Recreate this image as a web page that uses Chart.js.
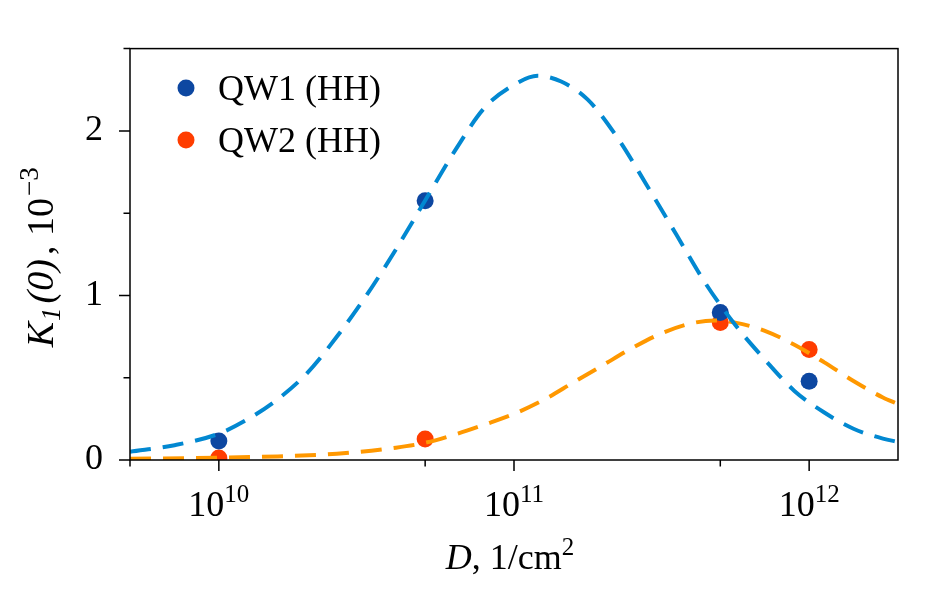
<!DOCTYPE html>
<html>
<head>
<meta charset="utf-8">
<script src="https://cdn.jsdelivr.net/npm/chart.js@4.4.1/dist/chart.umd.min.js"></script>
<style>
    html, body { margin: 0; padding: 0; background: #fff; }
    #wrap { width: 946px; height: 590px; position: relative; }
</style>
</head>
<body>
<div id="wrap"><canvas id="k1Chart"></canvas></div>
<script>
// Puntos medidos
const pointD = [1e10, 5e10, 5e11, 1e12];
const qw1Values = [0.115, 1.576, 0.897, 0.479];
const qw2Values = [0.012, 0.127, 0.836, 0.671];
const seriesLabels = ['QW1 (HH)', 'QW2 (HH)'];

// Curvas de ajuste
const fit1D = [5e9, 7.08e9, 1e10, 1.259e10, 1.585e10, 1.995e10, 2.512e10, 3.162e10, 3.981e10, 5.012e10,
    6.31e10, 7.943e10, 1e11, 1.202e11, 1.445e11, 1.778e11, 2.239e11, 2.818e11, 3.548e11, 4.467e11,
    5.623e11, 7.079e11, 8.913e11, 1.122e12, 1.413e12, 1.778e12, 2e12];
const fit1Values = [0.05, 0.09, 0.16, 0.25, 0.37, 0.53, 0.75, 1.00, 1.28, 1.58,
    1.88, 2.14, 2.28, 2.335, 2.30, 2.19, 1.96, 1.67, 1.37, 1.07,
    0.82, 0.61, 0.42, 0.29, 0.19, 0.13, 0.11];

const fit2D = [5e9, 1e10, 1.585e10, 2.512e10, 3.981e10, 5.012e10, 6.31e10, 7.943e10, 1e11, 1.259e11,
    1.585e11, 1.995e11, 2.512e11, 3.162e11, 3.981e11, 4.786e11, 5.623e11, 7.079e11, 8.913e11, 1.122e12,
    1.413e12, 1.778e12, 2e12];
const fit2Values = [0.007, 0.014, 0.022, 0.038, 0.075, 0.105, 0.155, 0.215, 0.28, 0.365,
    0.47, 0.575, 0.68, 0.77, 0.83, 0.848, 0.835, 0.785, 0.70, 0.595,
    0.48, 0.38, 0.34];

// Ticks
const xMajorTicks = [1e10, 1e11, 1e12];
const xMinorTicks = [5e9, 5e10, 5e11];
const yMajorTicks = [0, 1, 2];
const yMinorTicks = [0.5, 1.5, 2.5];

const SERIF = "'Liberation Serif', 'Times New Roman', serif";
const FS = 36;      // tamaño de texto
const FS_SMALL = 25; // sub / superíndices
const DOT1 = '#0d47a1';
const DOT2 = '#ff3d00';
const LINE1 = '#0288d1';
const LINE2 = '#ff9800';

function toXY(xs, ys) {
    return xs.map((x, i) => ({ x: x, y: ys[i] }));
}

// dibuja texto con partes en cursiva / sub / superíndice
function drawRich(ctx, pieces, x, y) {
    let total = 0;
    pieces.forEach(p => {
        ctx.font = (p.italic ? 'italic ' : '') + p.size + 'px ' + SERIF;
        p.w = ctx.measureText(p.text).width + (p.gap || 0);
        total += p.w;
    });
    let cx = x - total / 2;
    pieces.forEach(p => {
        ctx.font = (p.italic ? 'italic ' : '') + p.size + 'px ' + SERIF;
        ctx.fillText(p.text, cx, y + (p.dy || 0));
        cx += p.w;
    });
}

const axisDecor = {
    id: 'axisDecor',
    afterDraw(chart) {
        const ctx = chart.ctx;
        const area = chart.chartArea;
        const xs = chart.scales.x;
        const ys = chart.scales.y;
        ctx.save();
        ctx.strokeStyle = '#000';
        ctx.fillStyle = '#000';
        ctx.lineWidth = 1.5;
        ctx.strokeRect(area.left, area.top, area.right - area.left, area.bottom - area.top);

        ctx.beginPath();
        xMajorTicks.forEach(v => {
            const px = xs.getPixelForValue(v);
            ctx.moveTo(px, area.bottom); ctx.lineTo(px, area.bottom + 11);
        });
        xMinorTicks.forEach(v => {
            const px = xs.getPixelForValue(v);
            ctx.moveTo(px, area.bottom); ctx.lineTo(px, area.bottom + 6.5);
        });
        yMajorTicks.forEach(v => {
            const py = ys.getPixelForValue(v);
            ctx.moveTo(area.left - 11, py); ctx.lineTo(area.left, py);
        });
        yMinorTicks.forEach(v => {
            const py = ys.getPixelForValue(v);
            ctx.moveTo(area.left - 6.5, py); ctx.lineTo(area.left, py);
        });
        ctx.stroke();

        // etiquetas del eje x: 10^n
        ctx.textBaseline = 'alphabetic';
        ctx.textAlign = 'left';
        xMajorTicks.forEach(v => {
            const px = xs.getPixelForValue(v);
            const exp = Math.round(Math.log10(v));
            drawRich(ctx, [
                { text: '10', size: FS },
                { text: String(exp), size: FS_SMALL, dy: -14 }
            ], px, 516);
        });

        // título eje x
        drawRich(ctx, [
            { text: 'D', size: FS, italic: true },
            { text: ', 1/cm', size: FS },
            { text: '2', size: FS_SMALL, dy: -14 }
        ], (area.left + area.right) / 2 - 4, 569);

        // título eje y
        ctx.save();
        ctx.translate(53, (area.top + area.bottom) / 2 + 3);
        ctx.rotate(-Math.PI / 2);
        drawRich(ctx, [
            { text: 'K', size: 38, italic: true, gap: 1 },
            { text: '1', size: 27, italic: true, dy: 7, gap: 4 },
            { text: '(0)', size: 38, italic: true, gap: 4 },
            { text: ', 10', size: 38, gap: 2 },
            { text: '\u22123', size: 27, dy: -15 }
        ], 0, 0);
        ctx.restore();

        // leyenda
        const legendRows = [
            { label: seriesLabels[0], color: DOT1, y: 88 },
            { label: seriesLabels[1], color: DOT2, y: 140 }
        ];
        legendRows.forEach(r => {
            ctx.fillStyle = r.color;
            ctx.beginPath();
            ctx.arc(186, r.y, 8.5, 0, Math.PI * 2);
            ctx.fill();
            ctx.fillStyle = '#000';
            ctx.font = FS + 'px ' + SERIF;
            ctx.fillText(r.label, 218, r.y + 12);
        });
        ctx.restore();
    }
};

const ctx = document.getElementById('k1Chart').getContext('2d');
new Chart(ctx, {
    type: 'scatter',
    data: {
        datasets: [
            {
                type: 'line',
                label: 'fit QW1',
                data: toXY(fit1D, fit1Values),
                borderColor: LINE1,
                borderWidth: 4,
                borderDash: [21, 12],
                pointRadius: 0,
                cubicInterpolationMode: 'monotone',
                fill: false,
                order: 0
            },
            {
                type: 'line',
                label: 'fit QW2',
                data: toXY(fit2D, fit2Values),
                borderColor: LINE2,
                borderWidth: 4,
                borderDash: [21, 12],
                pointRadius: 0,
                cubicInterpolationMode: 'monotone',
                fill: false,
                order: 0
            },
            {
                label: seriesLabels[0],
                data: toXY(pointD, qw1Values),
                backgroundColor: DOT1,
                borderWidth: 0,
                pointRadius: 8.5,
                order: 1
            },
            {
                label: seriesLabels[1],
                data: toXY(pointD, qw2Values),
                backgroundColor: DOT2,
                borderWidth: 0,
                pointRadius: 8.5,
                order: 1
            }
        ]
    },
    options: {
        responsive: true,
        maintainAspectRatio: false,
        animation: false,
        layout: { padding: { left: 0, right: 48, top: 47, bottom: 0 } },
        plugins: {
            legend: { display: false },
            tooltip: { enabled: false }
        },
        scales: {
            x: {
                type: 'logarithmic',
                min: 5e9,
                max: 2e12,
                grid: { display: false, drawTicks: false },
                border: { display: false },
                ticks: { display: false },
                afterBuildTicks: s => { s.ticks = xMajorTicks.map(v => ({ value: v })); },
                afterFit: s => { s.height = 130; }
            },
            y: {
                min: 0,
                max: 2.5,
                grid: { display: false, drawTicks: false },
                border: { display: false },
                ticks: {
                    stepSize: 0.5,
                    padding: 27,
                    color: '#000',
                    font: { family: SERIF, size: FS },
                    callback: v => Number.isInteger(v) ? String(v) : ''
                },
                afterFit: s => { s.width = 130; }
            }
        }
    },
    plugins: [axisDecor]
});
</script>
</body>
</html>
